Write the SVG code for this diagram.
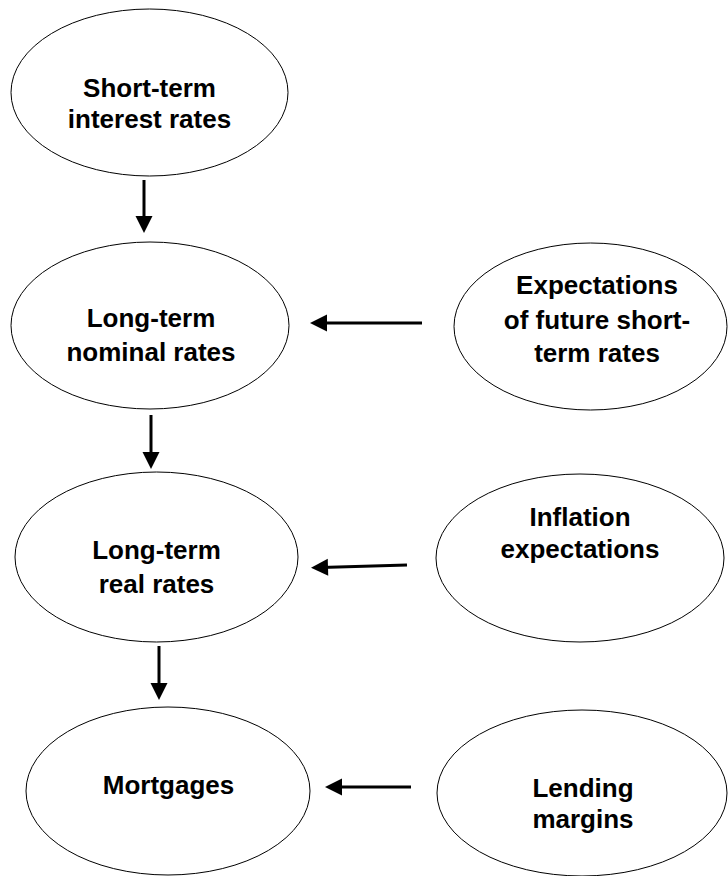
<svg xmlns="http://www.w3.org/2000/svg" width="728" height="876" viewBox="0 0 728 876">
<style>
.node ellipse{fill:#fff;stroke:#000;stroke-width:1}
.node text{font-family:"Liberation Sans",Arial,sans-serif;font-weight:bold;font-size:26px;text-anchor:middle;fill:#000}
.edge{stroke:#000;stroke-width:3;fill:none;marker-end:url(#ah)}
</style>
<defs>
<marker id="ah" markerUnits="userSpaceOnUse" markerWidth="17" markerHeight="17" refX="7" refY="8.5" orient="auto" overflow="visible">
<path d="M0,0 L17,8.5 L0,17 Z" fill="#000"/>
</marker>
</defs>
<rect width="728" height="876" fill="#fff"/>
<g id="short-term" class="node">
<ellipse cx="149.5" cy="92.5" rx="138.5" ry="83.5"/>
<text x="149.5" y="97">Short-term</text>
<text x="149.5" y="128">interest rates</text>
</g>
<g id="long-nominal" class="node">
<ellipse cx="150" cy="325.5" rx="139" ry="83.5"/>
<text x="151" y="327">Long-term</text>
<text x="151" y="361">nominal rates</text>
</g>
<g id="expectations" class="node">
<ellipse cx="590.5" cy="326.5" rx="136.5" ry="83.5"/>
<text x="597" y="294">Expectations</text>
<text x="597" y="329">of future short-</text>
<text x="597" y="362">term rates</text>
</g>
<g id="long-real" class="node">
<ellipse cx="156.5" cy="557" rx="141.5" ry="85"/>
<text x="156.5" y="559">Long-term</text>
<text x="156.5" y="593">real rates</text>
</g>
<g id="inflation" class="node">
<ellipse cx="580" cy="558" rx="144" ry="84"/>
<text x="580" y="526">Inflation</text>
<text x="580" y="558">expectations</text>
</g>
<g id="mortgages" class="node">
<ellipse cx="168" cy="791" rx="142" ry="84"/>
<text x="168.5" y="794">Mortgages</text>
</g>
<g id="lending" class="node">
<ellipse cx="582" cy="793" rx="145" ry="83"/>
<text x="583" y="797">Lending</text>
<text x="583" y="828">margins</text>
</g>
<g id="connectors">
<path class="edge" d="M144,180 L144,223"/>
<path class="edge" d="M422,323 L320,323"/>
<path class="edge" d="M151,415 L151,459"/>
<path class="edge" d="M407,565 L321,567.5"/>
<path class="edge" d="M159,646 L159,690"/>
<path class="edge" d="M411,787 L335,787"/>
</g>
</svg>
